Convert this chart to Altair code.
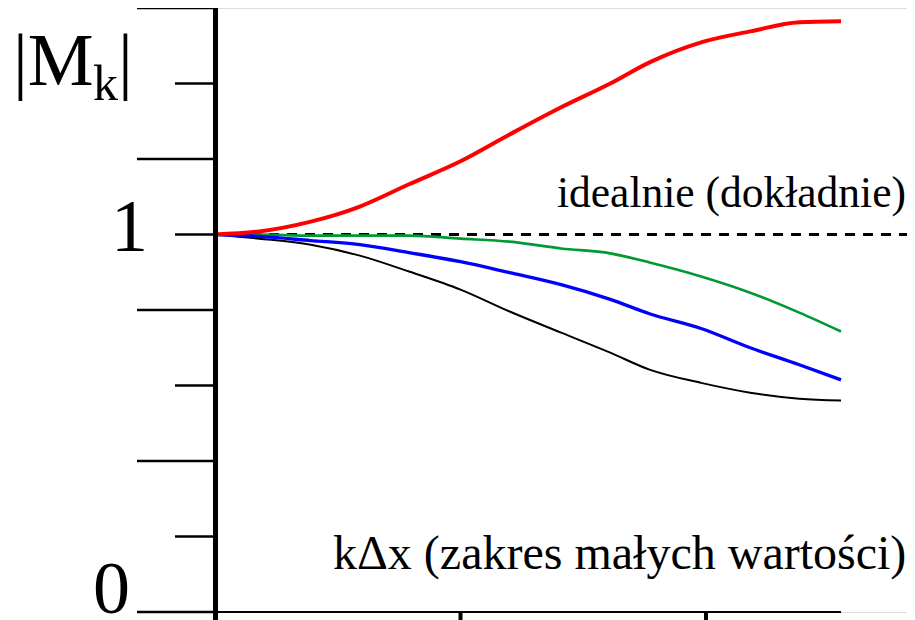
import altair as alt
import pandas as pd

# ---- data ----
kdx = [0, 0.18, 0.39, 0.59, 0.79, 1.0, 1.2, 1.41, 1.61, 1.77, 1.98, 2.18, 2.38, 2.55]
red = [1.0, 1.008, 1.034, 1.074, 1.133, 1.194, 1.265, 1.337, 1.400, 1.456, 1.509, 1.538, 1.562, 1.565]
green = [1.0, 1.0, 0.997, 0.997, 0.997, 0.989, 0.981, 0.963, 0.950, 0.926, 0.889, 0.846, 0.793, 0.743]
blue = [1.0, 0.995, 0.984, 0.973, 0.952, 0.928, 0.899, 0.867, 0.828, 0.790, 0.751, 0.700, 0.655, 0.615]
black = [1.0, 0.989, 0.973, 0.944, 0.902, 0.854, 0.796, 0.740, 0.687, 0.642, 0.607, 0.581, 0.565, 0.560]

series_names = ["black", "green", "blue", "red"]
series_colors = ["#000000", "#009933", "#0000ff", "#ff0000"]
series_widths = [2, 4, 4, 4]

y_major_ticks = [0, 0.4, 0.8, 1.2, 1.6]
y_minor_ticks = [0.2, 0.6, 1.0, 1.4]
x_ticks = [1, 2]
x_end = [2.55]
ideal_value = [1.0]

W, H = 692, 604
PX_PER_X = 245.5
XMAX = W / PX_PER_X
YMAX = 1.6

rows = []
for name, vals in zip(series_names, [black, green, blue, red]):
    for xv, yv in zip(kdx, vals):
        rows.append({"x": xv, "y": yv, "s": name})
df = pd.DataFrame(rows)

xs = alt.Scale(domain=[0, XMAX], nice=False, zero=False)
ys = alt.Scale(domain=[0, YMAX], nice=False, zero=False)
SERIF = "Liberation Serif"

# dashed ideal line
ideal = alt.Chart(pd.DataFrame({"y": ideal_value})).mark_rule(
    color="black", strokeWidth=3, strokeDash=[10, 8]
).encode(y=alt.Y("y:Q", scale=ys, axis=None), x=alt.value(18), x2=alt.value(W))

lines = alt.Chart(df).mark_line(interpolate="monotone", clip=False).encode(
    x=alt.X("x:Q", scale=xs, axis=None),
    y=alt.Y("y:Q", scale=ys, axis=None),
    color=alt.Color("s:N", scale=alt.Scale(domain=series_names, range=series_colors), legend=None),
    strokeWidth=alt.StrokeWidth("s:N", scale=alt.Scale(domain=series_names, range=series_widths), legend=None),
    order=alt.Order("x:Q"),
    detail="s:N",
)

# y-axis thick line
yaxis_line = alt.Chart(pd.DataFrame({"a": [0]})).mark_rule(color="black", strokeWidth=5).encode(
    x=alt.value(0.5), y=alt.value(-1), y2=alt.value(H + 10)
)

# x-axis line
xaxis_line = alt.Chart(pd.DataFrame({"x": x_end})).mark_rule(color="black", strokeWidth=2).encode(
    x=alt.X("x:Q", scale=xs, axis=None), x2=alt.value(-78), y=alt.value(H)
)

# x ticks
xtick = alt.Chart(pd.DataFrame({"x": x_ticks})).mark_rule(color="black", strokeWidth=4).encode(
    x=alt.X("x:Q", scale=xs, axis=None), y=alt.value(H), y2=alt.value(H + 10)
)

# y ticks
ymaj = alt.Chart(pd.DataFrame({"y": y_major_ticks})).mark_rule(color="black", strokeWidth=2.5).encode(
    y=alt.Y("y:Q", scale=ys, axis=None), x=alt.value(-78), x2=alt.value(0)
)
ymin = alt.Chart(pd.DataFrame({"y": y_minor_ticks})).mark_rule(color="black", strokeWidth=2.5).encode(
    y=alt.Y("y:Q", scale=ys, axis=None), x=alt.value(-40), x2=alt.value(0)
)

# tick labels
lab0 = alt.Chart(pd.DataFrame({"y": [0], "t": ["0"]})).mark_text(
    font=SERIF, fontSize=74, align="left", baseline="alphabetic", dy=1
).encode(y=alt.Y("y:Q", scale=ys, axis=None), x=alt.value(-122), text="t:N")
lab1 = alt.Chart(pd.DataFrame({"y": [1], "t": ["1"]})).mark_text(
    font=SERIF, fontSize=74, align="left", baseline="alphabetic", dy=16
).encode(y=alt.Y("y:Q", scale=ys, axis=None), x=alt.value(-104), text="t:N")


def txt(t, x, y, size, align="left"):
    return alt.Chart(pd.DataFrame({"t": [t]})).mark_text(
        font=SERIF, fontSize=size, align=align, baseline="alphabetic"
    ).encode(x=alt.value(x), y=alt.value(y), text="t:N")


mk1 = txt("|M", -202, 77, 74)
mk2 = txt("k", -122, 92, 50)
mk3 = txt("|", -97, 77, 74)

ideal_txt = txt("idealnie (dokładnie)", W - 1, 199, 43.5, align="right")
x_txt = txt("kΔx (zakres małych wartości)", 118, 561, 48)

chart = alt.layer(
    ideal, ymaj, ymin, xaxis_line, xtick, lines, yaxis_line,
    lab0, lab1, mk1, mk2, mk3, ideal_txt, x_txt
).properties(
    width=W, height=H,
    autosize=alt.AutoSizeParams(type="none"),
    padding={"left": 207, "top": 0, "right": 0, "bottom": 10},
).configure_view(stroke=None).configure(background="white")

chart.save("out.html", embed_options={"renderer": "svg", "actions": False})
